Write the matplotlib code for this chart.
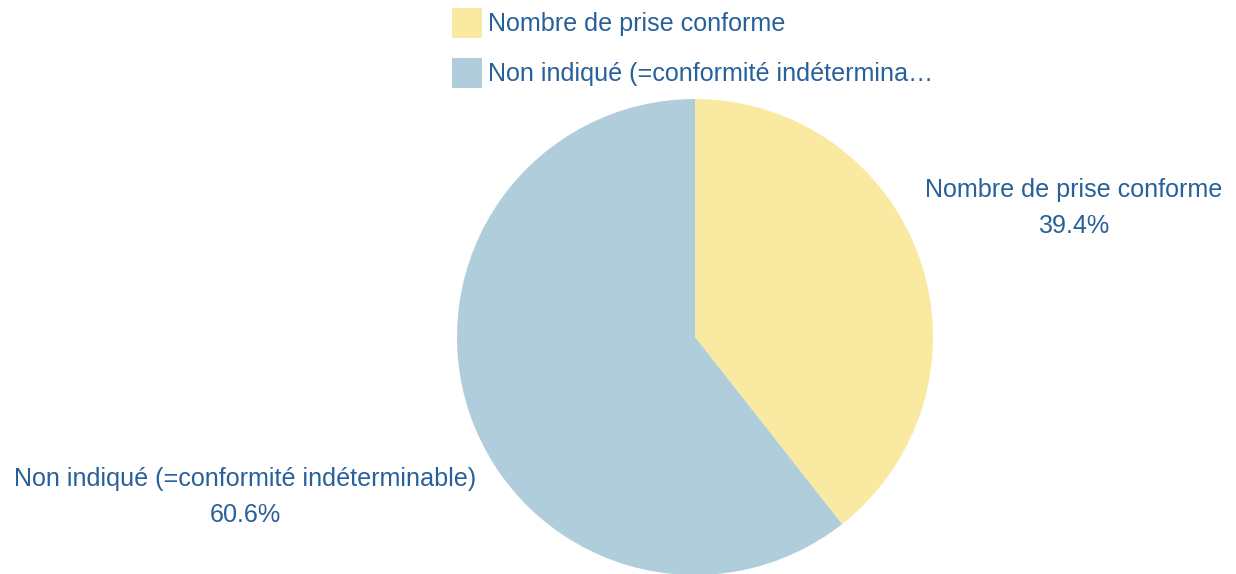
import matplotlib
matplotlib.use("Agg")
import matplotlib.pyplot as plt

categories = ["Nombre de prise conforme", "Non indiqué (=conformité indéterminable)"]
legend_labels = ["Nombre de prise conforme", "Non indiqué (=conformité indétermina…"]
shares = [39.4, 60.6]
colors = ["#fae9a0", "#b0cddc"]
text_color = "#28609a"

plt.rcParams["font.family"] = ["Liberation Sans", "DejaVu Sans"]

W, H = 1236, 574
fig = plt.figure(figsize=(W / 100, H / 100), dpi=100)
ax = fig.add_axes([0, 0, 1, 1])

fs = 18.1

cx, cy, r = 695, H - 337, 238
wedges, _ = ax.pie(shares, colors=colors, startangle=90, counterclock=False,
                   center=(cx, cy), radius=r, frame=True,
                   wedgeprops=dict(linewidth=0))
ax.set_xlim(0, W)
ax.set_ylim(0, H)
ax.set_aspect("equal")
ax.axis("off")

# outside labels: name on first line, percentage below
label_pos = [(1074, H - 190), (245, H - 479)]
total = sum(shares)
for (x, y), name, v in zip(label_pos, categories, shares):
    ax.text(x, y, name, ha="center", va="center", fontsize=fs, color=text_color)
    ax.text(x, y - 36, f"{v / total * 100:.1f}%", ha="center", va="center",
            fontsize=fs, color=text_color)

leg = fig.legend(wedges, legend_labels, loc="upper left",
                 bbox_to_anchor=(452 / W, 1 - 8 / H), frameon=False,
                 fontsize=fs, handlelength=1.2, handleheight=1.47,
                 handletextpad=0.24, labelspacing=0.77, borderpad=0,
                 borderaxespad=0)
for t in leg.get_texts():
    t.set_color(text_color)

fig.savefig("out.png", dpi=100, facecolor="white")
